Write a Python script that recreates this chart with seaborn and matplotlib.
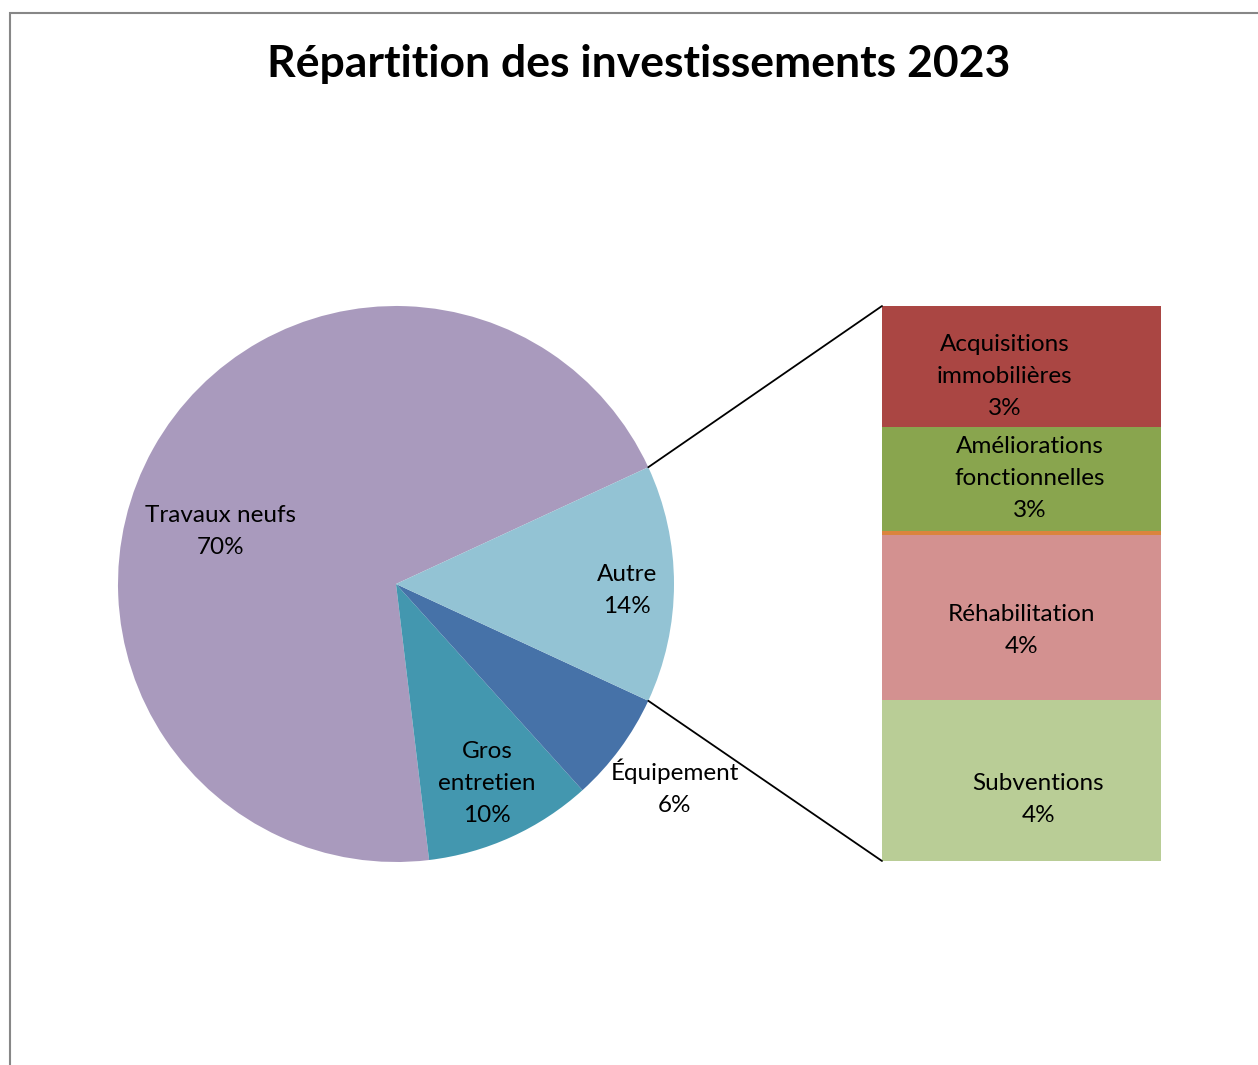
import seaborn as sns
import matplotlib.pyplot as plt
import numpy as np
from matplotlib.patches import Rectangle, ConnectionPatch

sns.set_style("white")
plt.rcParams["font.family"] = ["Lato", "DejaVu Sans"]
plt.rcParams["text.color"] = "black"

# Pie data (percent)
pie_labels = ["Travaux neufs", "Gros\nentretien", "Équipement", "Autre"]
pie_values = [70.0, 9.8, 6.4, 13.8]
pie_colors = ["#A99ABD", "#4397AF", "#4672A8", "#93C3D4"]

# Detail of "Autre" (bar), top to bottom
bar_labels = ["Acquisitions\nimmobilières", "Améliorations\nfonctionnelles", "",
              "Réhabilitation", "Subventions"]
bar_values = [3.0, 2.6, 0.1, 4.1, 4.0]
bar_colors = ["#AA4643", "#89A54E", "#DB843D", "#D39190", "#B9CD96"]

W, H = 1258, 1065
fig = plt.figure(figsize=(W / 100, H / 100), dpi=100)

# chart border (only left and top edges visible in the crop)
fig.patches.append(Rectangle((10 / W, -0.1), 1.2, 1 - 13 / H + 0.1,
                             transform=fig.transFigure, fill=False,
                             edgecolor="#878787", linewidth=1.5))

fig.text(639 / W, 1 - 64 / H, "Répartition des investissements 2023",
         ha="center", va="center", fontsize=32, fontweight="bold", color="black")

# pie
ax = fig.add_axes([118 / W, 1 - 862 / H, 556 / W, 556 / H])
autre_angle = pie_values[-1] * 3.6
wedges, _ = ax.pie(pie_values, colors=pie_colors, startangle=autre_angle / 2,
                   counterclock=True, radius=1,
                   wedgeprops=dict(linewidth=0))
ax.set_xlim(-1, 1)
ax.set_ylim(-1, 1)
ax.axis("off")

# label placement: (radius fraction, angle offset in degrees) per slice
label_place = [(0.66, 12.5), (0.79, 0), (1.24, 0.3), (0.83, -1.5)]
for w, lab, val, (rf, off) in zip(wedges, pie_labels, pie_values, label_place):
    mid = np.deg2rad((w.theta1 + w.theta2) / 2 + off)
    ax.text(rf * np.cos(mid), rf * np.sin(mid), f"{lab}\n{round(val):d}%",
            ha="center", va="center", fontsize=17.5, linespacing=1.65,
            color="black")

# stacked bar
ax2 = fig.add_axes([882 / W, 1 - 861 / H, 279 / W, 555 / H])
cum = np.cumsum(bar_values[::-1])[::-1]
for c, col in zip(cum, bar_colors):
    sns.barplot(x=["Autre"], y=[c], color=col, width=1, saturation=1,
                linewidth=0, ax=ax2)
ax2.set_xlim(-0.5, 0.5)
ax2.set_ylim(0, sum(bar_values))
ax2.axis("off")

# label nudges inside the bar (x in bar widths, y in data units)
bar_off = [(-0.06, -0.25), (0.03, 0.0), (0, 0), (0.0, -0.32), (0.06, -0.47)]
for c, v, lab, (xo, yo) in zip(cum, bar_values, bar_labels, bar_off):
    if not lab:
        continue
    ax2.text(xo, c - v / 2 + yo, f"{lab}\n{round(v):d}%", ha="center",
             va="center", fontsize=17.5, linespacing=1.65, color="black")

# connector lines
half = np.deg2rad(autre_angle / 2)
for sgn, ycorner in [(1, 1), (-1, 0)]:
    con = ConnectionPatch(xyA=(np.cos(half), sgn * np.sin(half)), coordsA=ax.transData,
                          xyB=(0, ycorner), coordsB=ax2.transAxes,
                          color="black", linewidth=1.3)
    fig.add_artist(con)

plt.savefig("out.png", dpi=100)
plt.close()
